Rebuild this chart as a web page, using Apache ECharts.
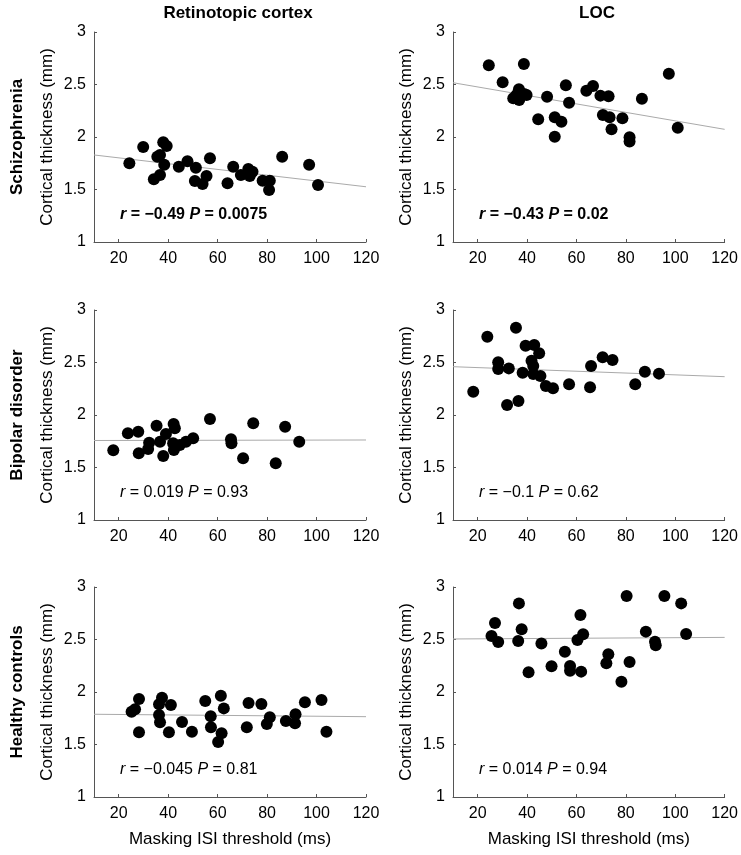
<!DOCTYPE html>
<html><head><meta charset="utf-8">
<script src="https://cdn.jsdelivr.net/npm/echarts@6/dist/echarts.min.js"></script>
<style>html,body{margin:0;padding:0;background:#fff}#c{width:741px;height:855px}</style>
</head><body><div id="c"></div>
<script>
// ---- data ----
const columnTitles = ['Retinotopic cortex', 'LOC'];
const rowTitles = ['Schizophrenia', 'Bipolar disorder', 'Healthy controls'];
const xTickValues = [20, 40, 60, 80, 100, 120];
const fitX = [10, 120];

const sczRcX = [24.3,29.9,38.0,39.4,35.6,36.7,38.4,34.2,36.7,44.3,47.8,51.2,50.8,53.9,55.5,56.9,64.0,66.3,69.4,72.4,74.1,73.0,78.2,81.1,80.8,86.1,97.0,100.6];
const sczRcY = [1.749,1.905,1.949,1.914,1.813,1.829,1.736,1.597,1.638,1.717,1.768,1.708,1.581,1.552,1.629,1.797,1.559,1.717,1.638,1.695,1.670,1.629,1.584,1.584,1.495,1.813,1.736,1.543];
const sczRcFit = [1.829, 1.526];

const sczLocX = [24.5,30.1,38.7,36.7,34.4,36.8,38.8,39.8,35.7,44.5,48.1,51.2,53.9,51.2,55.7,57.0,64.0,66.7,69.7,73.0,70.7,73.4,74.2,78.6,81.5,81.5,86.5,97.4,101.0];
const sczLocY = [2.683,2.521,2.695,2.454,2.368,2.352,2.410,2.400,2.400,2.168,2.384,2.187,2.146,2.003,2.492,2.327,2.441,2.486,2.394,2.387,2.210,2.187,2.073,2.178,1.997,1.956,2.365,2.603,2.089];
const sczLocFit = [2.517, 2.073];

const bpRcX = [17.8,23.7,27.9,28.1,31.9,32.3,35.3,36.7,39.1,38.0,42.2,42.7,42.0,42.3,44.7,47.2,50.1,56.9,65.4,65.6,70.3,74.4,83.5,87.3,93.0];
const bpRcY = [1.664,1.826,1.841,1.635,1.676,1.736,1.898,1.746,1.819,1.610,1.914,1.873,1.730,1.667,1.714,1.746,1.778,1.962,1.768,1.730,1.588,1.921,1.540,1.889,1.746];
const bpRcFit = [1.757, 1.762];

const bpLocX = [18.2,23.9,35.5,28.3,28.3,32.6,31.9,36.5,38.2,39.4,42.9,44.9,41.8,42.5,42.5,45.4,47.6,50.5,57.0,65.5,65.9,70.6,74.6,83.8,87.7,93.4];
const bpLocY = [2.222,2.746,2.832,2.502,2.438,2.444,2.095,2.133,2.403,2.660,2.667,2.587,2.517,2.467,2.390,2.371,2.276,2.254,2.292,2.264,2.467,2.549,2.524,2.292,2.413,2.394];
const bpLocFit = [2.46, 2.365];

const hcRcX = [25.2,26.6,28.2,28.2,36.3,37.5,36.3,36.7,41.1,40.3,45.6,49.6,55.0,57.2,57.3,61.3,62.5,61.6,60.2,71.8,72.5,77.7,81.1,79.9,87.6,91.5,91.3,95.3,102.0,104.0];
const hcRcY = [1.813,1.835,1.933,1.616,1.883,1.946,1.781,1.711,1.876,1.616,1.714,1.622,1.914,1.768,1.664,1.965,1.844,1.607,1.524,1.664,1.895,1.886,1.759,1.695,1.724,1.787,1.702,1.902,1.924,1.622];
const hcRcFit = [1.788, 1.765];

const hcLocX = [25.6,27.0,28.3,36.4,36.7,37.8,41.5,40.6,45.8,49.9,55.3,57.4,57.4,60.4,61.6,62.7,61.9,72.1,72.9,78.2,80.3,81.5,88.1,91.8,92.1,95.6,102.4,104.4];
const hcLocY = [2.533,2.657,2.476,2.486,2.844,2.597,3.006,2.187,2.463,2.245,2.384,2.248,2.203,2.495,2.733,2.549,2.194,2.273,2.359,2.098,2.914,2.286,2.575,2.479,2.445,2.914,2.844,2.552];
const hcLocFit = [2.505, 2.52];

const statR = ['\u22120.49', '\u22120.43', '0.019', '\u22120.1', '\u22120.045', '0.014'];
const statP = ['0.0075', '0.02', '0.93', '0.62', '0.81', '0.94'];
const statBold = [true, true, false, false, false, false];

// ---- layout ----
const FONT = '"Liberation Sans", Arial, Helvetica, sans-serif';
const gridLefts = [94, 453];
const gridTops = [32, 310, 587];
const GW = 272, GH = 210;

const panels = [
  [sczRcX, sczRcY, sczRcFit], [sczLocX, sczLocY, sczLocFit],
  [bpRcX, bpRcY, bpRcFit], [bpLocX, bpLocY, bpLocFit],
  [hcRcX, hcRcY, hcRcFit], [hcLocX, hcLocY, hcLocFit]
];

const grids = [], xAxes = [], yAxes = [], series = [], graphics = [];
const axisColor = '#555';
panels.forEach((p, i) => {
  const row = Math.floor(i / 2), col = i % 2;
  grids.push({ left: gridLefts[col], top: gridTops[row], width: GW, height: GH });
  xAxes.push({
    gridIndex: i, type: 'value', min: 10, max: 120,
    name: row === 2 ? 'Masking ISI threshold (ms)' : '',
    nameLocation: 'middle', nameGap: 34,
    nameTextStyle: { fontSize: 17, color: '#000', fontFamily: FONT },
    axisLine: { show: true, onZero: false, lineStyle: { color: axisColor, width: 1 } },
    axisTick: { show: true, inside: true, length: 3, customValues: xTickValues, lineStyle: { color: axisColor } },
    axisLabel: { customValues: xTickValues, fontSize: 16, color: '#000', fontFamily: FONT, margin: 9 },
    splitLine: { show: false }
  });
  yAxes.push({
    gridIndex: i, type: 'value', min: 1, max: 3, interval: 0.5,
    name: 'Cortical thickness (mm)', nameLocation: 'middle', nameGap: 38,
    nameTextStyle: { fontSize: 17, color: '#000', fontFamily: FONT },
    axisLine: { show: true, onZero: false, lineStyle: { color: axisColor, width: 1 } },
    axisTick: { show: true, inside: true, length: 3, lineStyle: { color: axisColor } },
    axisLabel: { fontSize: 16, color: '#000', fontFamily: FONT, margin: 8 },
    splitLine: { show: false }
  });
  series.push({
    type: 'line', xAxisIndex: i, yAxisIndex: i,
    data: fitX.map((x, k) => [x, p[2][k]]),
    showSymbol: false, symbol: 'none', silent: true, z: 1,
    lineStyle: { color: '#aaa', width: 1 }
  });
  series.push({
    type: 'scatter', xAxisIndex: i, yAxisIndex: i,
    data: p[0].map((x, k) => [x, p[1][k]]),
    symbolSize: 12, itemStyle: { color: '#000', opacity: 1 }, z: 2
  });
  const bw = statBold[i] ? 'bold' : 'normal';
  graphics.push({
    type: 'text', x: gridLefts[col] + 26, y: gridTops[row] + 183,
    style: {
      text: '{i|r}{n| = ' + statR[i] + ' }{i|P}{n| = ' + statP[i] + '}',
      verticalAlign: 'middle', align: 'left',
      rich: {
        i: { fontStyle: 'italic', fontWeight: bw, fontSize: 16, fontFamily: FONT, fill: '#000' },
        n: { fontWeight: bw, fontSize: 16, fontFamily: FONT, fill: '#000' }
      }
    }
  });
});

columnTitles.forEach((t, c) => {
  graphics.push({
    type: 'text', x: gridLefts[c] + GW / 2 + 8, y: 13,
    style: { text: t, fontSize: 17, fontWeight: 'bold', fontFamily: FONT, fill: '#000', align: 'center', verticalAlign: 'middle' }
  });
});
rowTitles.forEach((t, r) => {
  graphics.push({
    type: 'text', x: 17, y: gridTops[r] + GH / 2, rotation: Math.PI / 2,
    style: { text: t, fontSize: 17, fontWeight: 'bold', fontFamily: FONT, fill: '#000', align: 'center', verticalAlign: 'middle' }
  });
});

const chart = echarts.init(document.getElementById('c'), null, { renderer: 'canvas' });
chart.setOption({
  animation: false,
  backgroundColor: '#fff',
  grid: grids, xAxis: xAxes, yAxis: yAxes, series: series, graphic: graphics
});
</script></body></html>
